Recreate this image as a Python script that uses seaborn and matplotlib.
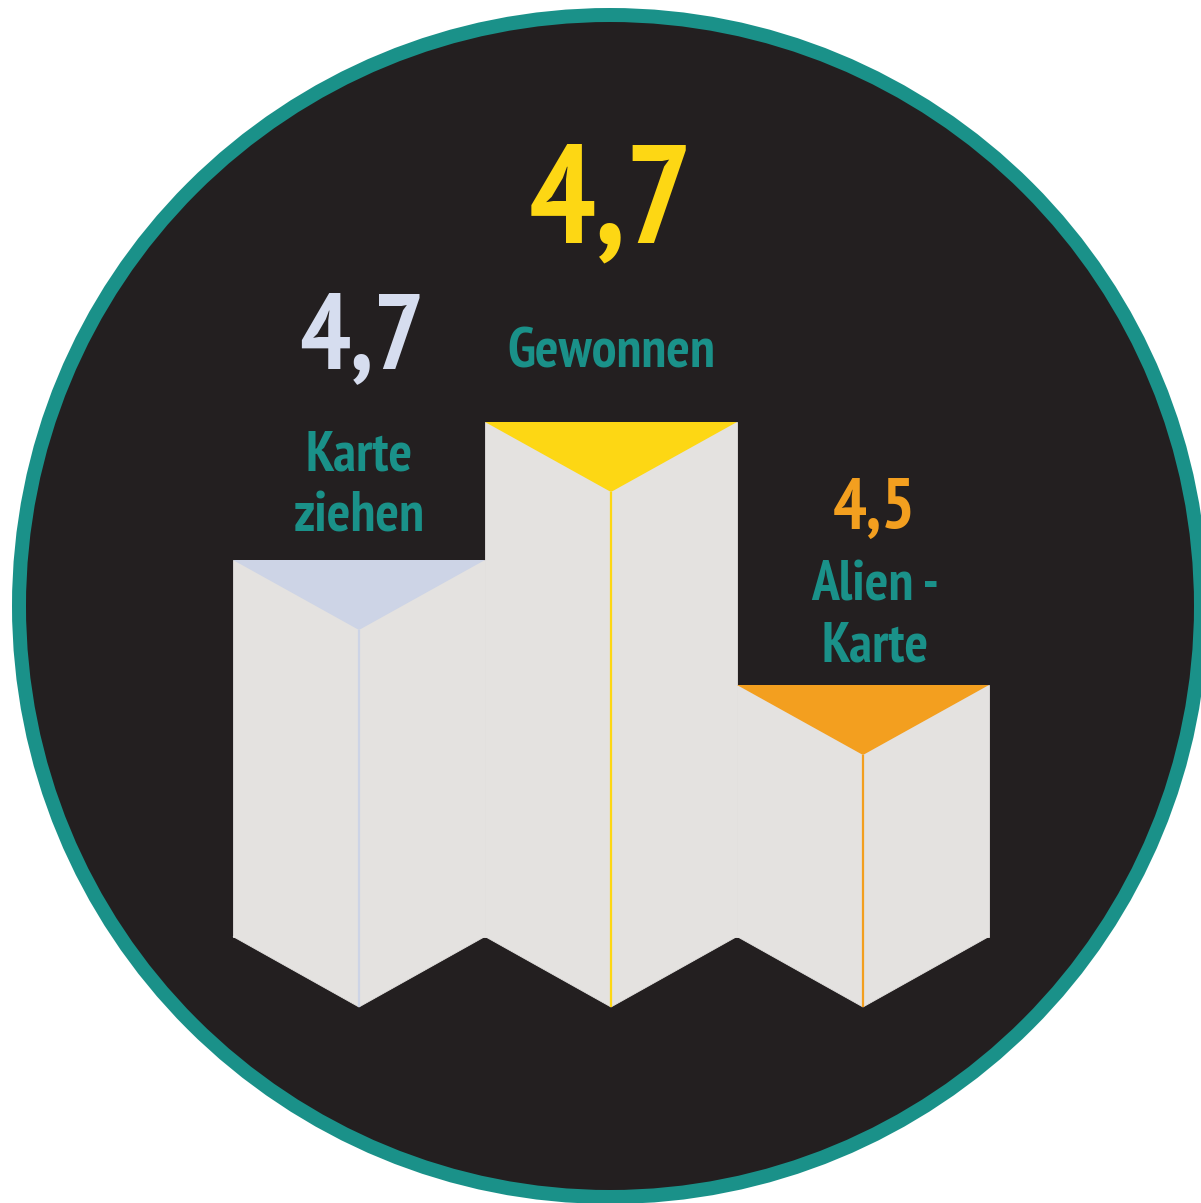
import matplotlib
matplotlib.use("Agg")
import matplotlib.pyplot as plt
from matplotlib.patches import Circle, Polygon
import seaborn as sns
import pandas as pd

# ---- data ----
categories = ["Karte ziehen", "Gewonnen", "Alien - Karte"]
ratings = ["4,7", "4,7", "4,5"]
labels = ["Karte\nziehen", "Gewonnen", "Alien -\nKarte"]
podium_heights = [377, 515, 252]   # displayed podium heights
bar_colors = ["#cdd4e6", "#fdd714", "#f39f1f"]
value_colors = ["#d6ddef", "#fdd714", "#f39f1f"]

TEAL = "#1a9189"
DARK = "#231f20"
FACE = "#e4e2e0"

sns.set_theme(style="white")
plt.rcParams["font.family"] = ["PT Sans Narrow", "DejaVu Sans"]

W, H = 1201, 1203
fig = plt.figure(figsize=(W / 100, H / 100), dpi=100)
fig.patch.set_facecolor("white")

# background circle
ax_bg = fig.add_axes([0, 0, 1, 1])
ax_bg.set_xlim(0, W)
ax_bg.set_ylim(H, 0)
ax_bg.axis("off")
ax_bg.add_patch(Circle((610, 606), 591, facecolor=DARK, edgecolor=TEAL,
                       linewidth=14 * 0.72))

# bar axes: 1 y-unit = 1 px, baseline at 937 px from top; 252 px per category
ax = fig.add_axes([0, 0, 1, 1], zorder=2)
ax.patch.set_alpha(0)
df = pd.DataFrame({"cat": categories, "h": podium_heights})
sns.barplot(data=df, x="cat", y="h", order=categories, width=1.0,
            color=FACE, saturation=1, edgecolor=FACE, linewidth=0.6, ax=ax)

px = 252.0
x_left = -0.5 - 233 / px
ax.set_xlim(x_left, x_left + W / px)
ax.set_ylim(937 - H, 937)
ax.axis("off")

depth = 70
for i, h in enumerate(podium_heights):
    # bottom pointed edge
    ax.add_patch(Polygon([(i - 0.5, 0.5), (i + 0.5, 0.5), (i, -depth)],
                         closed=True, facecolor=FACE, edgecolor=FACE,
                         linewidth=0.6, zorder=3))
    # center fold line
    ax.plot([i, i], [-depth, h - depth], color=bar_colors[i], lw=1.6,
            zorder=4, solid_capstyle="butt")
    # top triangle
    ax.add_patch(Polygon([(i - 0.5, h), (i + 0.5, h), (i, h - depth)],
                         closed=True, facecolor=bar_colors[i],
                         edgecolor="none", zorder=5))

# text (baseline positions in px from top)
value_y = [368, 242, 528]
value_x = [0.01, 0.0, 0.045]
value_size = [77, 101, 51]
label_y = [532, 367, 662]
label_x = [0.0, 0.0, 0.05]
for i in range(3):
    ax.text(i + value_x[i], 937 - value_y[i], ratings[i],
            ha="center", va="baseline", fontsize=value_size[i],
            fontweight="bold", color=value_colors[i], zorder=6)
    ax.text(i + label_x[i], 937 - label_y[i], labels[i],
            ha="center", va="baseline", fontsize=40, fontweight="bold",
            color=TEAL, linespacing=1.26, zorder=6, multialignment="center")

fig.savefig("out.png", dpi=100, facecolor="white")
